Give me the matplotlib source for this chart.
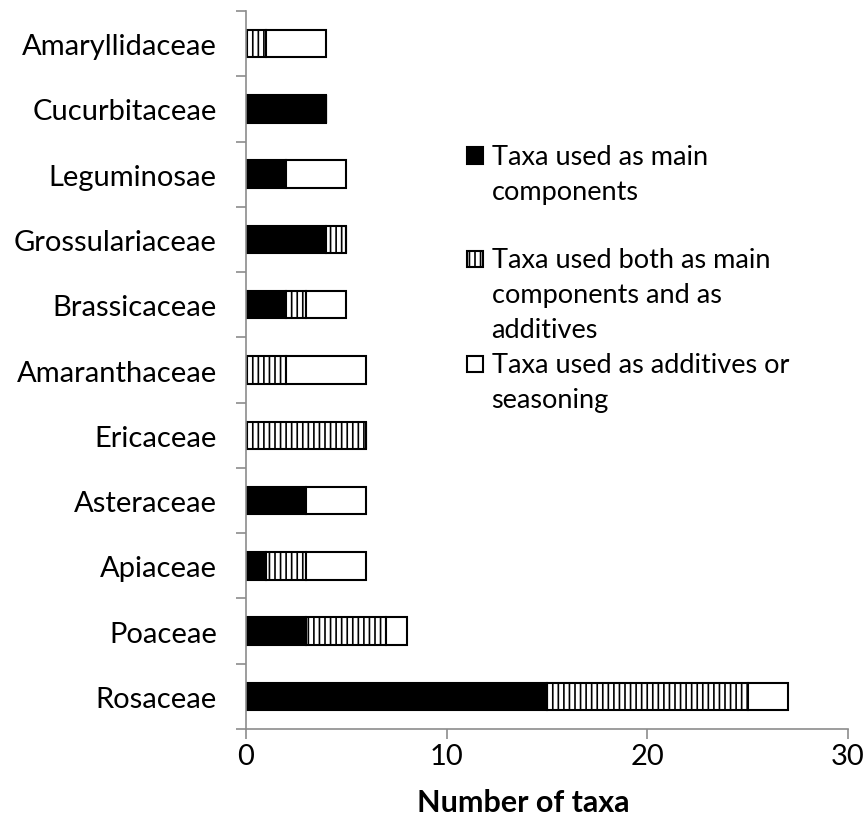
import numpy as np
import matplotlib
matplotlib.use("Agg")
import matplotlib.pyplot as plt
from matplotlib.patches import Rectangle

plt.rcParams['font.family'] = ['Lato', 'DejaVu Sans']
plt.rcParams['hatch.linewidth'] = 1.2

# families, bottom to top
families = ['Rosaceae', 'Poaceae', 'Apiaceae', 'Asteraceae', 'Ericaceae',
            'Amaranthaceae', 'Brassicaceae', 'Grossulariaceae', 'Leguminosae',
            'Cucurbitaceae', 'Amaryllidaceae']
main_comp = [15, 3, 1, 3, 0, 0, 2, 4, 2, 4, 0]
both = [10, 4, 2, 0, 6, 2, 1, 1, 0, 0, 1]
additives = [2, 1, 3, 3, 0, 4, 2, 0, 3, 0, 3]

labels = ['Taxa used as main\ncomponents',
          'Taxa used both as main\ncomponents and as\nadditives',
          'Taxa used as additives or\nseasoning']

fig = plt.figure(figsize=(8.65, 8.29), dpi=100)
ax = fig.add_axes([0.2844, 0.1194, 0.6959, 0.8661])

y = np.arange(len(families))
h = 0.42
main_comp = np.array(main_comp)
both = np.array(both)
additives = np.array(additives)

ax.barh(y, main_comp, h, color='black', edgecolor='black', linewidth=1.5)
ax.barh(y, both, h, left=main_comp, color='white', edgecolor='black',
        hatch='|||', linewidth=1.5)
ax.barh(y, additives, h, left=main_comp + both, color='white',
        edgecolor='black', linewidth=1.5)

ax.set_xlim(0, 30)
ax.set_ylim(-0.5, len(families) - 0.5)
ax.set_xticks([0, 10, 20, 30])
ax.set_yticks(y)
ax.set_yticklabels(families)
ax.set_yticks(np.arange(-0.5, len(families), 1), minor=True)

grey = '#8c8c8c'
for s in ['top', 'right']:
    ax.spines[s].set_visible(False)
for s in ['left', 'bottom']:
    ax.spines[s].set_color(grey)
    ax.spines[s].set_linewidth(1.2)
ax.tick_params(axis='y', which='major', length=0, pad=21, labelsize=21)
ax.tick_params(axis='y', which='minor', length=7, color=grey, width=1.2)
ax.tick_params(axis='x', length=7, color=grey, width=1.2, labelsize=21, pad=3)
ax.set_xlabel('Number of taxa', fontsize=22, fontweight='bold')
ax.xaxis.set_label_coords(0.46, -0.082)

# legend, Excel style: marker next to the first line of each entry
styles = [dict(facecolor='black'), dict(facecolor='white', hatch='|||'),
          dict(facecolor='white')]
entry_y = [0.787, 0.643, 0.497]
line_step = 0.0487
for lab, st, ey in zip(labels, styles, entry_y):
    ax.add_patch(Rectangle((0.367, ey), 0.027, 0.023, transform=ax.transAxes,
                           edgecolor='black', linewidth=1.5, clip_on=False, **st))
    n = lab.count('\n')
    ax.text(0.408, ey - n * line_step, lab, transform=ax.transAxes,
            fontsize=19.5, va='baseline', ha='left', linespacing=1.5)

fig.savefig('out.png', dpi=100)
